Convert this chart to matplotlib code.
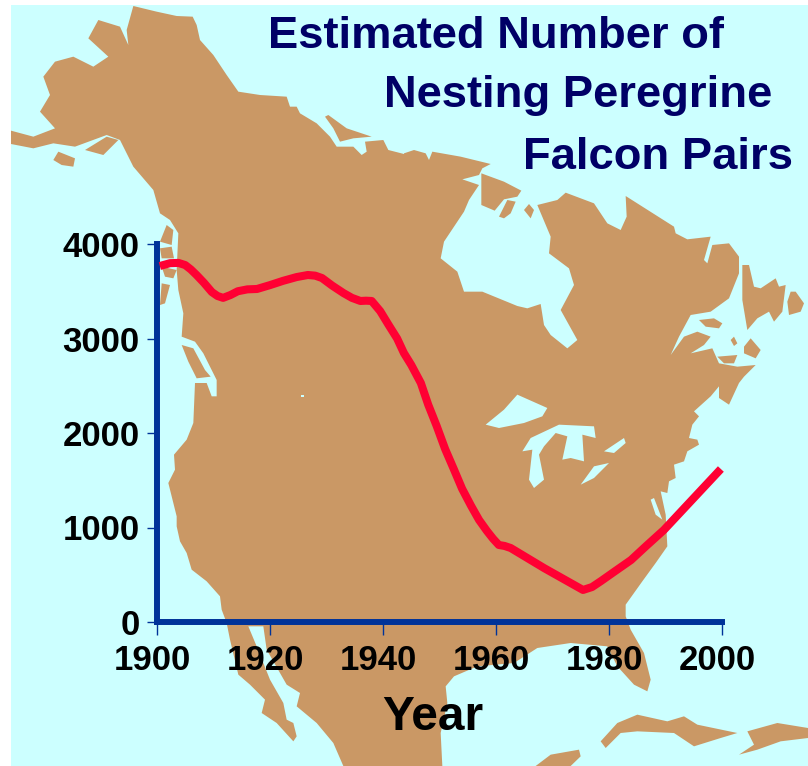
import matplotlib
matplotlib.use('Agg')
import matplotlib.pyplot as plt
from matplotlib.patches import Polygon, Rectangle
from matplotlib.transforms import ScaledTranslation

# Nesting pairs by year
years = [1900.5, 1902.3, 1903.8, 1905, 1906, 1907, 1908.3, 1909.7, 1910.7, 1911.7, 1913, 1914.3,
         1916, 1917.7, 1920, 1922.3, 1924.7, 1926.7, 1928, 1929.2, 1931, 1933, 1934.5, 1936,
         1937, 1938, 1939.5, 1941, 1942.5, 1943.7, 1945, 1946.7, 1948, 1949.5, 1951, 1952.6,
         1954, 1955.6, 1957, 1958.4, 1959.5, 1960.5, 1961.5, 1962.6, 1968.5, 1975.4, 1977,
         1978.6, 1981, 1983.9, 1986.5, 1989.7, 1999.8]
pairs = [3767, 3797, 3800, 3777, 3730, 3672, 3590, 3492, 3450, 3430, 3460, 3500,
         3520, 3524, 3565, 3610, 3650, 3672, 3665, 3640, 3560, 3481, 3430, 3397,
         3400, 3397, 3290, 3143, 3000, 2846, 2720, 2529, 2300, 2074, 1830, 1608,
         1410, 1228, 1080, 963, 880, 815, 805, 783, 571, 339, 370,
         434, 535, 656, 800, 973, 1619]
x_ticks = [1900, 1920, 1940, 1960, 1980, 2000]
y_ticks = [0, 1000, 2000, 3000, 4000]
title_lines = ['Estimated Number of', 'Nesting Peregrine', 'Falcon Pairs']
x_name = 'Year'

WATER = '#CCFFFF'
LAND = '#CA9865'
AXIS_BLUE = '#003399'
LINE_RED = '#FF0033'
TITLE_BLUE = '#000066'

# Coastline is digitised per quadrant of the sheet, at 3 units per pixel
W, H = 808, 766
def nw(pts):
    return [(x / 3, y / 3) for x, y in pts]
def ne(pts):
    return [(x / 3 + 404, y / 3) for x, y in pts]
def sw(pts):
    return [(x / 3, y / 3 + 383) for x, y in pts]
def se(pts):
    return [(x / 3 + 404, y / 3 + 383) for x, y in pts]

mainland = (
    nw([(400, 18), (470, 35), (530, 48), (578, 50), (590, 75), (600, 120), (640, 165), (680, 225),
        (715, 275), (780, 285), (860, 290), (870, 320), (890, 320), (900, 340), (950, 370),
        (990, 410), (1010, 440), (1060, 440), (1085, 465), (1100, 455), (1095, 425), (1150, 420),
        (1165, 450), (1212, 462)])
    + ne([(0, 460), (30, 450), (65, 460), (75, 480), (85, 455), (170, 470), (260, 492), (235, 505),
          (225, 525), (175, 538), (225, 555), (195, 600), (180, 635), (120, 725), (110, 775),
          (160, 815), (180, 875), (235, 875), (340, 918), (370, 925), (410, 912), (420, 975),
          (440, 1005), (490, 1045), (520, 1020), (470, 930), (510, 855), (495, 805), (435, 760),
          (440, 710), (400, 615), (460, 600), (485, 578), (570, 610), (610, 670), (650, 690),
          (668, 650), (665, 588), (810, 680), (815, 700), (850, 718), (920, 710), (900, 780),
          (910, 790), (925, 735), (975, 730), (1005, 770), (1005, 820), (975, 895), (920, 935),
          (860, 945), (825, 1010), (800, 1065), (840, 1010), (880, 995), (920, 1010), (900, 1035),
          (860, 1060), (925, 1045), (945, 1090), (1000, 1100), (1055, 1095), (1020, 1130)])
    + se([(1005, 0), (975, 65), (945, 45), (945, 10), (920, 40), (870, 85), (885, 100), (865, 125),
          (855, 165), (880, 170), (885, 185), (850, 205), (840, 235), (810, 245), (815, 285),
          (795, 295), (790, 330), (770, 325), (785, 395), (790, 490), (755, 540), (715, 595),
          (665, 665), (665, 700), (680, 740), (720, 810), (740, 890), (730, 925), (690, 905),
          (640, 850), (610, 790), (500, 780), (400, 795), (330, 840), (220, 850), (150, 880),
          (125, 910), (130, 960), (110, 1050), (115, 1149)])
    + sw([(1030, 1149), (1000, 1080), (950, 1020), (890, 970), (900, 930), (860, 905), (800, 800),
          (790, 730), (745, 730), (770, 790), (810, 890), (850, 960), (860, 1010), (880, 1020),
          (890, 1060), (880, 1075), (830, 1020), (785, 990), (795, 950), (750, 905), (715, 875),
          (690, 770), (680, 720), (665, 680), (660, 640), (620, 595), (575, 560), (560, 510),
          (540, 475), (530, 430), (530, 400), (505, 300), (525, 260), (522, 215), (560, 170),
          (580, 120), (585, 0), (620, 0), (635, 40), (650, 40), (650, 0)])
    + nw([(650, 1140), (610, 1060), (585, 1025), (545, 1010), (550, 940), (535, 870), (530, 810),
          (535, 700), (510, 660), (480, 640), (460, 570), (400, 500), (360, 420), (320, 405),
          (225, 440), (160, 430), (100, 445), (33, 432), (33, 392), (100, 410), (165, 385),
          (120, 335), (150, 285), (130, 230), (165, 185), (220, 170), (280, 200), (325, 170),
          (265, 115), (295, 60), (360, 80), (385, 135), (380, 90)])
)

islands = [
    nw([(255, 450), (320, 410), (355, 420), (310, 465)]),
    nw([(160, 480), (175, 455), (225, 475), (220, 500), (185, 495)]),
    nw([(480, 725), (500, 675), (520, 690), (515, 735)]),
    nw([(480, 745), (515, 740), (522, 775), (485, 775)]),
    nw([(485, 800), (530, 810), (520, 835), (495, 830)]),
    nw([(485, 850), (510, 855), (495, 910), (480, 915)]),
    nw([(545, 1035), (580, 1045), (615, 1110), (632, 1130), (590, 1135), (565, 1085)]),
    nw([(975, 350), (985, 345), (1040, 385), (1115, 410), (1060, 415), (1020, 425), (1000, 385)]),
    ne([(232, 520), (300, 545), (352, 572), (340, 590), (300, 598), (272, 632), (232, 615)]),
    ne([(285, 650), (310, 600), (335, 605), (320, 640), (300, 655)]),
    ne([(360, 630), (375, 612), (390, 630), (380, 655)]),
    ne([(1015, 795), (1035, 795), (1050, 860), (1070, 865), (1115, 835), (1125, 860), (1145, 855),
        (1135, 935), (1110, 965), (1095, 935), (1060, 955), (1030, 990), (1015, 900)]),
    ne([(1160, 875), (1175, 875), (1200, 910), (1190, 935), (1155, 945), (1150, 905)]),
    ne([(885, 960), (930, 955), (955, 970), (945, 985), (905, 980)]),
    ne([(980, 1020), (990, 1010), (1000, 1030), (990, 1038)]),
    ne([(1040, 1015), (1070, 1050), (1055, 1075), (1020, 1060), (1020, 1040)]),
    ne([(940, 1070), (1000, 1065), (990, 1090), (960, 1090)]),
    se([(590, 1075), (640, 1020), (700, 995), (790, 1015), (840, 1000), (880, 1025), (1000, 1050),
        (950, 1065), (870, 1090), (810, 1050), (700, 1045), (650, 1050), (605, 1095)]),
    se([(1030, 1045), (1120, 1020), (1212, 1035), (1212, 1065), (1130, 1075), (1060, 1100),
        (1005, 1115), (1050, 1085)]),
    se([(395, 1149), (440, 1115), (525, 1100), (530, 1120), (500, 1149)]),
]

lakes = [
    se([(245, 125), (300, 80), (340, 35), (430, 75), (415, 100), (360, 120), (285, 135)]),
    se([(355, 205), (380, 165), (465, 125), (570, 130), (575, 165), (535, 155), (540, 235),
        (500, 225), (475, 230), (490, 160), (455, 150), (420, 190), (405, 215), (420, 290),
        (390, 315), (375, 290), (385, 200)]),
    se([(530, 305), (570, 250), (615, 240), (570, 285)]),
    se([(600, 205), (660, 165), (665, 180), (630, 210)]),
    se([(740, 350), (750, 345), (775, 410), (755, 395)]),
    sw([(903, 35), (912, 35), (912, 42), (903, 42)]),
]

fig = plt.figure(figsize=(8.08, 7.66), dpi=100, facecolor='white')

# Map backdrop, in pixel coordinates
bg = fig.add_axes([0, 0, 1, 1])
bg.set_xlim(0, W)
bg.set_ylim(H, 0)
bg.axis('off')
bg.add_patch(Rectangle((11, 5), W - 11, H - 5, fc=WATER, ec='none'))
bg.add_patch(Polygon(mainland, closed=True, fc=LAND, ec='none'))
for isl in islands:
    bg.add_patch(Polygon(isl, closed=True, fc=LAND, ec='none'))
for lake in lakes:
    bg.add_patch(Polygon(lake, closed=True, fc=WATER, ec='none'))

# Title lines
title_pos = [(268, 48), (384, 107), (523, 169)]
for line, (tx, ty) in zip(title_lines, title_pos):
    bg.text(tx, ty, line, family='Liberation Sans', weight='bold', fontsize=32.7,
            color=TITLE_BLUE, ha='left', va='baseline')

# Chart on top
ax = fig.add_axes([157 / W, 1 - 622 / H, (722 - 157) / W, (622 - 244) / H])
ax.patch.set_alpha(0)
ax.plot(years, pairs, color=LINE_RED, lw=5.8, solid_joinstyle='round', solid_capstyle='butt',
        clip_on=False, zorder=5)
ax.set_xlim(1900, 2000)
ax.set_ylim(0, 4000)
ax.set_xticks(x_ticks)
ax.set_yticks(y_ticks)
for side in ['top', 'right']:
    ax.spines[side].set_visible(False)
for side in ['left', 'bottom']:
    ax.spines[side].set_color(AXIS_BLUE)
    ax.spines[side].set_linewidth(4.3)
ax.tick_params(axis='x', length=9, width=1, color=AXIS_BLUE, pad=7)
ax.tick_params(axis='y', length=7, width=1, color=AXIS_BLUE, pad=5.5)
for lab in ax.get_xticklabels() + ax.get_yticklabels():
    lab.set_family('Liberation Sans')
    lab.set_weight('bold')
    lab.set_fontsize(25)
    lab.set_color('black')
# Year labels sit slightly left of their ticks
nudge = ScaledTranslation(-4.5 / 100, 0, fig.dpi_scale_trans)
for lab in ax.get_xticklabels():
    lab.set_transform(lab.get_transform() + nudge)
ax.set_xlabel(x_name, family='Liberation Sans', weight='bold', fontsize=34.5, color='black',
              x=0.488, labelpad=13)

fig.savefig('out.png', dpi=100)
